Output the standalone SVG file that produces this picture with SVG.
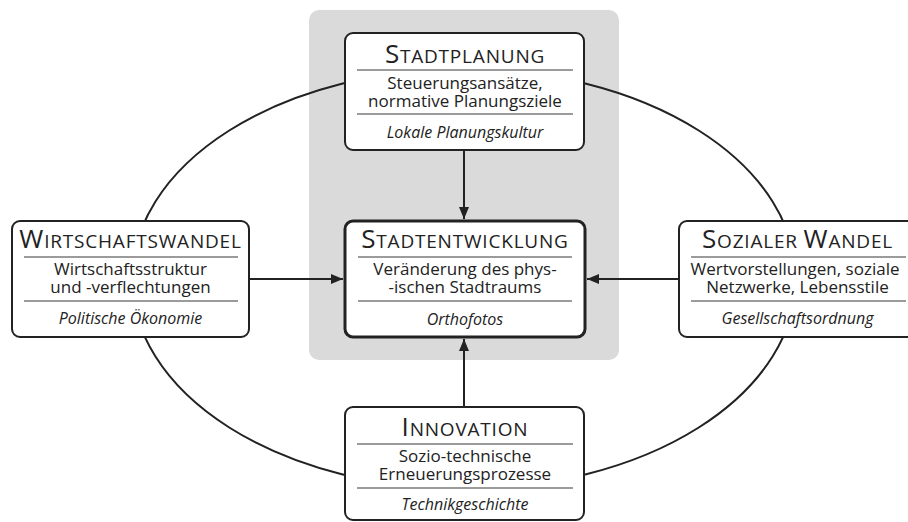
<svg xmlns="http://www.w3.org/2000/svg" width="908" height="522" viewBox="0 0 908 522">
<style>
  .box{fill:#fff;stroke:#222;stroke-width:2}
  .main{stroke-width:3}
  .div{stroke:#7a7a7a;stroke-width:1.5}
  text{font-family:"Open Sans","Noto Sans","DejaVu Sans",sans-serif;fill:#222;text-anchor:middle}
  .t{font-size:19px;letter-spacing:0.8px}
  .cap{font-size:26px}
  .b{font-size:17px}
  .i{font-size:16px;font-style:italic}
  .con{stroke:#222;stroke-width:2;fill:none}
</style>
<defs>
  <marker id="ah" viewBox="0 0 12 10" refX="12" refY="5" markerWidth="12" markerHeight="10" orient="auto" markerUnits="userSpaceOnUse">
    <path d="M0,0 L12,5 L0,10 z" fill="#222"/>
  </marker>
</defs>
<rect x="309" y="10" width="310" height="350" rx="10" fill="#dadada"/>
<g id="connectors">
  <ellipse class="con" cx="464" cy="279" rx="332" ry="210"/>
  <line class="con" x1="464" y1="150" x2="464" y2="219" marker-end="url(#ah)"/>
  <line class="con" x1="464" y1="407" x2="464" y2="339" marker-end="url(#ah)"/>
  <line class="con" x1="249" y1="279" x2="343" y2="279" marker-end="url(#ah)"/>
  <line class="con" x1="679" y1="279" x2="587" y2="279" marker-end="url(#ah)"/>
</g>
<g id="stadtplanung">
  <rect class="box" x="345" y="33" width="239" height="117" rx="8"/>
  <text class="t" x="465" y="63"><tspan class="cap">S</tspan>TADTPLANUNG</text>
  <line class="div" x1="357" y1="70" x2="573" y2="70"/>
  <text class="b" x="465" y="89">Steuerungsansätze,</text>
  <text class="b" x="465" y="107">normative Planungsziele</text>
  <line class="div" x1="357" y1="114" x2="573" y2="114"/>
  <text class="i" x="465" y="138">Lokale Planungskultur</text>
</g>
<g id="stadtentwicklung">
  <rect class="box main" x="345" y="221" width="240" height="116" rx="8"/>
  <text class="t" x="465" y="248"><tspan class="cap">S</tspan>TADTENTWICKLUNG</text>
  <line class="div" x1="358" y1="257" x2="572" y2="257"/>
  <text class="b" x="465" y="275">Veränderung des phys-</text>
  <text class="b" x="465" y="293">-ischen Stadtraums</text>
  <line class="div" x1="358" y1="301" x2="572" y2="301"/>
  <text class="i" x="465" y="325">Orthofotos</text>
</g>
<g id="wirtschaftswandel">
  <rect class="box" x="12" y="221" width="237" height="116" rx="8"/>
  <text class="t" x="130.5" y="248"><tspan class="cap">W</tspan>IRTSCHAFTSWANDEL</text>
  <line class="div" x1="24" y1="257" x2="238" y2="257"/>
  <text class="b" x="130.5" y="275">Wirtschaftsstruktur</text>
  <text class="b" x="130.5" y="293">und -verflechtungen</text>
  <line class="div" x1="24" y1="301" x2="238" y2="301"/>
  <text class="i" x="130.5" y="324">Politische Ökonomie</text>
</g>
<g id="sozialer-wandel">
  <rect class="box" x="679" y="221" width="237" height="116" rx="8"/>
  <text class="t" x="797.5" y="248"><tspan class="cap">S</tspan>OZIALER <tspan class="cap">W</tspan>ANDEL</text>
  <line class="div" x1="691" y1="257" x2="906" y2="257"/>
  <text class="b" x="795" y="275">Wertvorstellungen, soziale</text>
  <text class="b" x="797.5" y="293">Netzwerke, Lebensstile</text>
  <line class="div" x1="691" y1="301" x2="906" y2="301"/>
  <text class="i" x="797.5" y="324">Gesellschaftsordnung</text>
</g>
<g id="innovation">
  <rect class="box" x="345" y="407" width="239" height="113" rx="8"/>
  <text class="t" x="465" y="436"><tspan class="cap">I</tspan>NNOVATION</text>
  <line class="div" x1="357" y1="444" x2="573" y2="444"/>
  <text class="b" x="465" y="462">Sozio-technische</text>
  <text class="b" x="465" y="480">Erneuerungsprozesse</text>
  <line class="div" x1="357" y1="488" x2="573" y2="488"/>
  <text class="i" x="465" y="510">Technikgeschichte</text>
</g>
</svg>
